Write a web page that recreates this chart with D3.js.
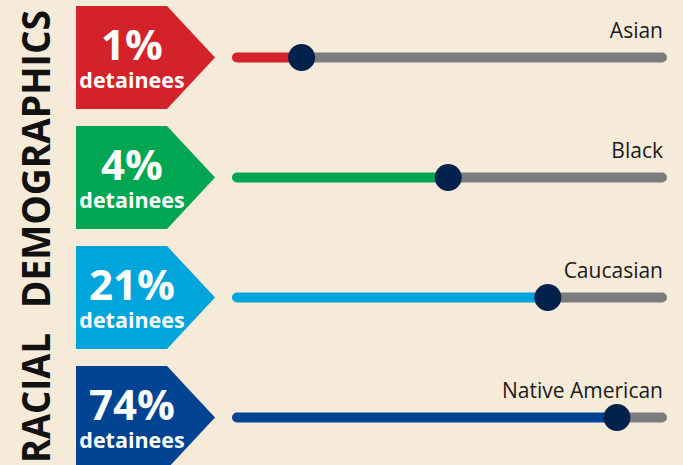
<!DOCTYPE html>
<html>
<head>
<meta charset="utf-8">
<script src="https://cdn.jsdelivr.net/npm/d3@7"></script>
<style>
  html, body { margin: 0; padding: 0; background: #f6ebd8; }
  svg { display: block; }
</style>
</head>
<body>
<script>
// chart data
var groups = ["Asian", "Black", "Caucasian", "Native American"];
var detaineeShare = [1, 4, 21, 74];            // % of detainees (badge)
var sliderValues = [16, 49.7, 72.6, 88.5];      // knob position on the slider, 0-100
var groupColors = ["#d3222a", "#00a651", "#00a5dc", "#004393"];
var titleWords = ["RACIAL", "DEMOGRAPHICS"];

var width = 683,
    height = 465;

var svg = d3.select("body")
    .append("svg")
    .attr("width", width)
    .attr("height", height);

svg.append("rect")
    .attr("width", width)
    .attr("height", height)
    .attr("fill", "#f6ebd8");

// rows are spaced evenly down the page
var y = d3.scalePoint()
    .domain(groups)
    .range([57.5, 417.5]);

// slider scale (track runs the full width on the right)
var x = d3.scaleLinear()
    .domain([0, 100])
    .range([232, 667]);

// vertical title, reads bottom to top
var title = svg.append("g")
    .attr("font-family", "'Open Sans', sans-serif")
    .attr("font-weight", 700)
    .attr("font-size", 39)
    .attr("fill", "#111");

title.append("text")
    .attr("transform", "translate(50,463) rotate(-90)")
    .attr("textLength", 130)
    .attr("lengthAdjust", "spacingAndGlyphs")
    .text(titleWords[0]);

title.append("text")
    .attr("transform", "translate(50,308) rotate(-90)")
    .attr("textLength", 298)
    .attr("lengthAdjust", "spacingAndGlyphs")
    .text(titleWords[1]);

var rows = svg.selectAll(".row")
    .data(groups)
    .enter()
    .append("g")
    .attr("class", "row")
    .attr("transform", function(d){ return "translate(0," + y(d) + ")"; });

// arrow badge
rows.append("path")
    .attr("d", "M76,-51.5 L167,-51.5 L215,0 L167,51.5 L76,51.5 Z")
    .attr("fill", function(d, i){ return groupColors[i]; });

rows.append("text")
    .attr("x", 132)
    .attr("y", 2)
    .attr("text-anchor", "middle")
    .attr("font-family", "'Open Sans', sans-serif")
    .attr("font-weight", 700)
    .attr("font-size", 42)
    .attr("fill", "#fff")
    .text(function(d, i){ return detaineeShare[i] + "%"; });

rows.append("text")
    .attr("x", 132)
    .attr("y", 30)
    .attr("text-anchor", "middle")
    .attr("font-family", "'Open Sans', sans-serif")
    .attr("font-weight", 700)
    .attr("font-size", 21.5)
    .attr("fill", "#fff")
    .text("detainees");

// slider track: gray remainder, coloured part up to knob
rows.append("line")
    .attr("x1", function(d, i){ return x(sliderValues[i]); })
    .attr("x2", x(100) - 5)
    .attr("stroke", "#7b7c80")
    .attr("stroke-width", 10)
    .attr("stroke-linecap", "round");

rows.append("line")
    .attr("x1", x(0) + 5)
    .attr("x2", function(d, i){ return x(sliderValues[i]); })
    .attr("stroke", function(d, i){ return groupColors[i]; })
    .attr("stroke-width", 10)
    .attr("stroke-linecap", "round");

rows.append("circle")
    .attr("cx", function(d, i){ return x(sliderValues[i]); })
    .attr("r", 13.5)
    .attr("fill", "#00214c");

rows.append("text")
    .attr("x", 663)
    .attr("y", -20)
    .attr("text-anchor", "end")
    .attr("font-family", "'Open Sans', sans-serif")
    .attr("font-size", 21)
    .attr("fill", "#1a1a1a")
    .text(function(d){ return d; });
</script>
</body>
</html>
